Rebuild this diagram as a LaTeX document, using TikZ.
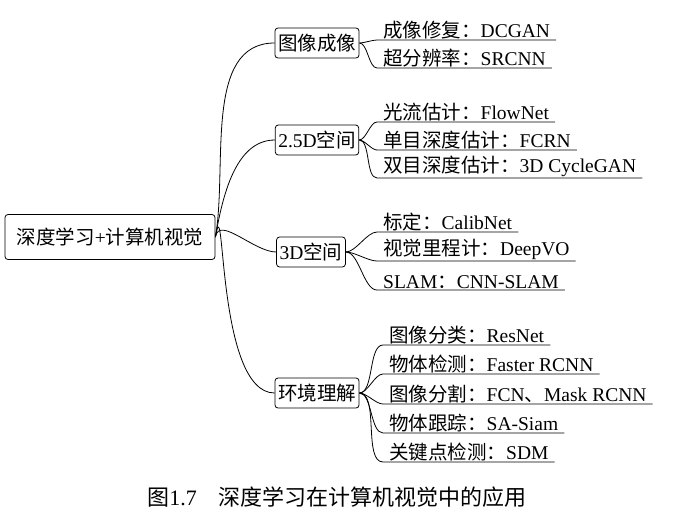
\documentclass[tikz,border=0pt]{standalone}
\usepackage{fontspec}
\setmainfont{Liberation Serif}
\newfontfamily\cjk{Noto Sans CJK SC}
\newcommand{\zh}[1]{{\cjk #1}}
\begin{document}
\begin{tikzpicture}[x=1pt,y=-1pt,
  every node/.style={font=\fontsize{19.5}{21}\selectfont},
  box/.style={draw,thick,rounded corners=3pt,inner xsep=3pt,inner ysep=2pt,minimum height=30pt},
  lf/.style={anchor=south west,inner xsep=6pt,inner ysep=1pt},
  br/.style={thick}]
\useasboundingbox (0,0) rectangle (675,523);
\node[box,minimum height=45pt,minimum width=210pt] (root) at (110,237) {\zh{深度学习}+\zh{计算机视觉}};
\node[box] (b1) at (317,43) {\zh{图像成像}};
\node[box] (b2) at (317,140) {2.5D\zh{空间}};
\node[box] (b3) at (311,252) {3D\zh{空间}};
\node[box] (b4) at (317,393) {\zh{环境理解}};
\foreach \b in {b1,b2,b3,b4}
  \draw[br] (root.east) to[out=80,in=180,looseness=0.9] (\b.west);
\newcommand{\leaf}[5]{%
  \node[lf] (#2) at (#3,#4) {#5};
  \draw[br] (#1.east) to[out=0,in=180,looseness=0.7] (#2.south west) -- (#2.south east);}
\leaf{b1}{l11}{377}{40}{\zh{成像修复：}DCGAN}
\leaf{b1}{l12}{377}{68}{\zh{超分辨率：}SRCNN}
\leaf{b2}{l21}{377}{122}{\zh{光流估计：}FlowNet}
\leaf{b2}{l22}{377}{150}{\zh{单目深度估计：}FCRN}
\leaf{b2}{l23}{377}{178}{\zh{双目深度估计：}3D CycleGAN}
\leaf{b3}{l31}{377}{232}{\zh{标定：}CalibNet}
\leaf{b3}{l32}{377}{261}{\zh{视觉里程计：}DeepVO}
\leaf{b3}{l33}{377}{290}{SLAM\zh{：}CNN-SLAM}
\leaf{b4}{l41}{383}{345}{\zh{图像分类：}ResNet}
\leaf{b4}{l42}{383}{374}{\zh{物体检测：}Faster RCNN}
\leaf{b4}{l43}{383}{404}{\zh{图像分割：}FCN\zh{、}Mask RCNN}
\leaf{b4}{l44}{383}{433}{\zh{物体跟踪：}SA-Siam}
\leaf{b4}{l45}{383}{462}{\zh{关键点检测：}SDM}
\node[font=\fontsize{22}{24}\selectfont] (cap) at (337,497) {\zh{图}1.7\quad\zh{深度学习在计算机视觉中的应用}};
\end{tikzpicture}
\end{document}
